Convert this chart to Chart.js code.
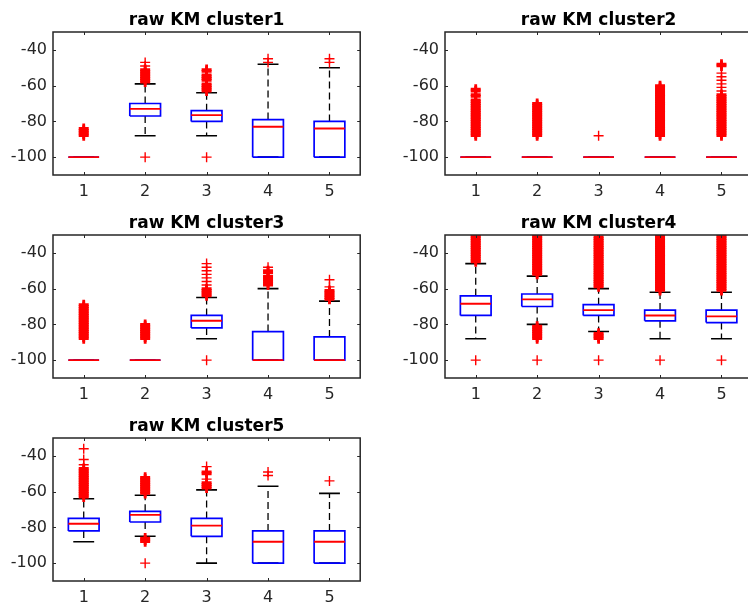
<!DOCTYPE html>
<html lang="en">
<head>
  <meta charset="UTF-8" />
  <title>raw KM clusters</title>
  <script src="https://cdn.jsdelivr.net/npm/chart.js"></script>
  <style>
    html, body { margin: 0; padding: 0; background: #fff; overflow: hidden; }
    body { width: 748px; height: 603px; position: relative; }
    .panel { position: absolute; width: 368px; height: 203px; }
  </style>
</head>
<body>
  <div class="panel" style="left:0px;top:0px"><canvas id="c1" width="368" height="203"></canvas></div>
  <div class="panel" style="left:392px;top:0px"><canvas id="c2" width="368" height="203"></canvas></div>
  <div class="panel" style="left:0px;top:203px"><canvas id="c3" width="368" height="203"></canvas></div>
  <div class="panel" style="left:392px;top:203px"><canvas id="c4" width="368" height="203"></canvas></div>
  <div class="panel" style="left:0px;top:406px"><canvas id="c5" width="368" height="203"></canvas></div>

  <script>
    // tick labels / categories
    const categories = ['1', '2', '3', '4', '5'];
    const xTicks = [1, 2, 3, 4, 5];
    const yTicks = [-100, -80, -60, -40];
    const titles = ['raw KM cluster1', 'raw KM cluster2', 'raw KM cluster3', 'raw KM cluster4', 'raw KM cluster5'];

    // cluster 1
    const c1Q1 = [-100, -77, -80, -100, -100];
    const c1Med = [-100, -73, -76.5, -83, -84];
    const c1Q3 = [-100, -70, -74, -79, -80];
    const c1Lo = [-100, -88, -88, -100, -100];
    const c1Hi = [-100, -59, -64, -48, -50];
    const c1Out = [
      [-84, -85, -86, -87, -88],
      [-47, -49, -51, -52, -53, -54, -55, -56, -57, -58, -100],
      [-51, -52, -54, -55, -56, -57, -59, -60, -61, -62, -63, -100],
      [-45, -47],
      [-45, -47]
    ];

    // cluster 2
    const c2Q1 = [-100, -100, -100, -100, -100];
    const c2Med = [-100, -100, -100, -100, -100];
    const c2Q3 = [-100, -100, -100, -100, -100];
    const c2Lo = [-100, -100, -100, -100, -100];
    const c2Hi = [-100, -100, -100, -100, -100];
    const c2Out = [
      [-62, -63, -65, -66, -68, -69, -70, -71, -72, -73, -74, -75, -76, -77, -78, -79, -80, -81, -82, -83, -84, -85, -86, -87, -88],
      [-70, -71, -72, -73, -74, -75, -76, -77, -78, -79, -80, -81, -82, -83, -84, -85, -86, -87, -88],
      [-88],
      [-60, -61, -62, -63, -64, -65, -66, -67, -68, -69, -70, -71, -72, -73, -74, -75, -76, -77, -78, -79, -80, -81, -82, -83, -84, -85, -86, -87, -88],
      [-48, -49, -53, -55, -57, -59, -61, -63, -65, -66, -67, -68, -69, -70, -71, -72, -73, -74, -75, -76, -77, -78, -79, -80, -81, -82, -83, -84, -85, -86, -87, -88]
    ];

    // cluster 3
    const c3Q1 = [-100, -100, -82, -100, -100];
    const c3Med = [-100, -100, -78, -100, -100];
    const c3Q3 = [-100, -100, -75, -84, -87];
    const c3Lo = [-100, -100, -88, -100, -100];
    const c3Hi = [-100, -100, -65, -60, -67];
    const c3Out = [
      [-69, -70, -71, -72, -73, -74, -75, -76, -77, -78, -79, -80, -81, -82, -83, -84, -85, -86, -87, -88],
      [-80, -81, -82, -83, -84, -85, -86, -87, -88],
      [-46, -48, -50, -52, -54, -56, -58, -60, -61, -62, -63, -64, -100],
      [-48, -50, -51, -53, -54, -55, -56, -57, -58],
      [-55, -59, -61, -62, -63, -64, -65, -66]
    ];

    // cluster 4
    const c4Q1 = [-75, -70, -75, -78, -79];
    const c4Med = [-68.5, -66, -72, -75, -75.5];
    const c4Q3 = [-64, -63, -69, -72, -72];
    const c4Lo = [-88, -80, -84, -88, -88];
    const c4Hi = [-46, -53, -60, -62, -62];
    const c4Out = [
      [-30, -31, -32, -33, -34, -35, -36, -37, -38, -39, -40, -41, -42, -43, -44, -45, -100],
      [-30, -31, -32, -33, -34, -35, -36, -37, -38, -39, -40, -41, -42, -43, -44, -45, -46, -47, -48, -49, -50, -51, -52,
       -81, -82, -83, -84, -85, -86, -87, -88, -100],
      [-31, -32, -33, -34, -35, -36, -37, -38, -39, -40, -41, -42, -43, -44, -45, -46, -47, -48, -49, -50, -51, -52, -53, -54, -55, -56, -57, -58, -59,
       -85, -86, -87, -88, -100],
      [-30, -31, -32, -33, -34, -35, -36, -37, -38, -39, -40, -41, -42, -43, -44, -45, -46, -47, -48, -49, -50, -51, -52, -53, -54, -55, -56, -57, -58, -59, -60, -61, -100],
      [-30, -31, -32, -33, -34, -35, -36, -37, -38, -39, -40, -41, -42, -43, -44, -45, -46, -47, -48, -49, -50, -51, -52, -53, -54, -55, -56, -57, -58, -59, -60, -61, -100]
    ];

    // cluster 5
    const c5Q1 = [-82, -77, -85, -100, -100];
    const c5Med = [-78, -73, -79, -88, -88];
    const c5Q3 = [-75, -71, -75, -82, -82];
    const c5Lo = [-88, -85, -100, -100, -100];
    const c5Hi = [-64, -62, -59, -57, -61];
    const c5Out = [
      [-36, -42, -45, -47, -48, -49, -50, -51, -52, -53, -54, -55, -56, -57, -58, -59, -60, -61, -62, -63],
      [-52, -53, -54, -55, -56, -57, -58, -59, -60, -61, -86, -87, -88, -100],
      [-46, -49, -50, -53, -55, -56, -57, -58],
      [-49, -51],
      [-54]
    ];

    const FONT = 'DejaVu Sans, Verdana, sans-serif';
    const BOX_HALF = 0.25;
    const CAP_HALF = 0.17;

    // frame around the axes + inward tick marks, like matlab
    const axesFrame = {
      id: 'axesFrame',
      afterDraw(chart) {
        const { ctx, chartArea: a, scales } = chart;
        ctx.save();
        ctx.strokeStyle = '#262626';
        ctx.lineWidth = 1.5;
        ctx.strokeRect(a.left, a.top, a.right - a.left, a.bottom - a.top);
        ctx.lineWidth = 1;
        ctx.beginPath();
        scales.x.ticks.forEach(t => {
          const px = Math.round(scales.x.getPixelForValue(t.value)) + 0.5;
          ctx.moveTo(px, a.bottom); ctx.lineTo(px, a.bottom - 3);
          ctx.moveTo(px, a.top); ctx.lineTo(px, a.top + 3);
        });
        scales.y.ticks.forEach(t => {
          const py = Math.round(scales.y.getPixelForValue(t.value)) + 0.5;
          ctx.moveTo(a.left, py); ctx.lineTo(a.left + 3, py);
          ctx.moveTo(a.right, py); ctx.lineTo(a.right - 3, py);
        });
        ctx.stroke();
        ctx.restore();
      }
    };

    function makePanel(id, title, q1, med, q3, lo, hi, out) {
      const boxes = [], medians = [], caps = [], whiskers = [], points = [];
      xTicks.forEach((x, i) => {
        boxes.push({ x: x - BOX_HALF, y: q1[i] }, { x: x + BOX_HALF, y: q1[i] }, { x: x + BOX_HALF, y: q3[i] },
                   { x: x - BOX_HALF, y: q3[i] }, { x: x - BOX_HALF, y: q1[i] }, { x: x - BOX_HALF, y: null });
        medians.push({ x: x - BOX_HALF, y: med[i] }, { x: x + BOX_HALF, y: med[i] }, { x: x + BOX_HALF, y: null });
        caps.push({ x: x - CAP_HALF, y: hi[i] }, { x: x + CAP_HALF, y: hi[i] }, { x: x + CAP_HALF, y: null });
        caps.push({ x: x - CAP_HALF, y: lo[i] }, { x: x + CAP_HALF, y: lo[i] }, { x: x + CAP_HALF, y: null });
        whiskers.push({ x, y: q3[i] }, { x, y: hi[i] }, { x, y: null });
        whiskers.push({ x, y: q1[i] }, { x, y: lo[i] }, { x, y: null });
        out[i].forEach(v => {
          // markers packed closely merge into a solid column, as in the original
          const packed = out[i].some(w => w !== v && Math.abs(w - v) <= 1.5);
          points.push({ x, y: v, packed });
        });
      });

      return new Chart(document.getElementById(id), {
        data: {
          datasets: [
            {
              type: 'scatter', data: points, order: 0, clip: 0,
              pointStyle: 'cross', pointRadius: 5, pointBorderColor: '#ff0000',
              pointBorderWidth: c => (c.raw && c.raw.packed ? 2.8 : 1.4),
              pointBackgroundColor: '#ff0000'
            },
            {
              type: 'line', data: medians, order: 1, clip: 0,
              borderColor: '#ff0000', borderWidth: 1.9, pointRadius: 0, spanGaps: false
            },
            {
              type: 'line', data: boxes, order: 2, clip: 0,
              borderColor: '#0000ff', borderWidth: 1.7, pointRadius: 0, spanGaps: false,
              borderJoinStyle: 'miter'
            },
            {
              type: 'line', data: caps, order: 3, clip: 0,
              borderColor: '#000000', borderWidth: 1.6, pointRadius: 0, spanGaps: false
            },
            {
              type: 'line', data: whiskers, order: 4, clip: 0,
              borderColor: '#000000', borderWidth: 1.3, borderDash: [7, 4], pointRadius: 0, spanGaps: false
            }
          ]
        },
        options: {
          responsive: false,
          animation: false,
          events: [],
          layout: { padding: { left: 0, right: 4, top: 0, bottom: 0 } },
          plugins: {
            legend: { display: false },
            tooltip: { enabled: false },
            title: {
              display: true,
              fullSize: false, // centre over the axes, not the canvas
              text: title,
              color: '#000',
              font: { family: FONT, size: 17, weight: 'bold', lineHeight: 1.2 },
              padding: { top: 10, bottom: 1.6 }
            }
          },
          scales: {
            x: {
              type: 'linear', position: 'bottom', min: 0.5, max: 5.5, offset: false,
              grid: { display: false, drawTicks: false, offset: false },
              border: { display: false },
              afterBuildTicks: s => { s.ticks = xTicks.map(v => ({ value: v })); },
              afterFit: s => { s.height = 28; },
              ticks: {
                padding: 7, color: '#262626', maxRotation: 0, autoSkip: false,
                font: { family: FONT, size: 16 },
                callback: v => categories[v - 1]
              }
            },
            y: {
              type: 'linear', position: 'left', min: -110, max: -30,
              grid: { display: false, drawTicks: false },
              border: { display: false },
              afterBuildTicks: s => { s.ticks = yTicks.map(v => ({ value: v })); },
              afterFit: s => { s.width = 53; },
              ticks: {
                padding: 6, color: '#262626',
                font: { family: FONT, size: 16 },
                callback: v => String(v)
              }
            }
          }
        },
        plugins: [axesFrame]
      });
    }

    makePanel('c1', titles[0], c1Q1, c1Med, c1Q3, c1Lo, c1Hi, c1Out);
    makePanel('c2', titles[1], c2Q1, c2Med, c2Q3, c2Lo, c2Hi, c2Out);
    makePanel('c3', titles[2], c3Q1, c3Med, c3Q3, c3Lo, c3Hi, c3Out);
    makePanel('c4', titles[3], c4Q1, c4Med, c4Q3, c4Lo, c4Hi, c4Out);
    makePanel('c5', titles[4], c5Q1, c5Med, c5Q3, c5Lo, c5Hi, c5Out);
  </script>
</body>
</html>
